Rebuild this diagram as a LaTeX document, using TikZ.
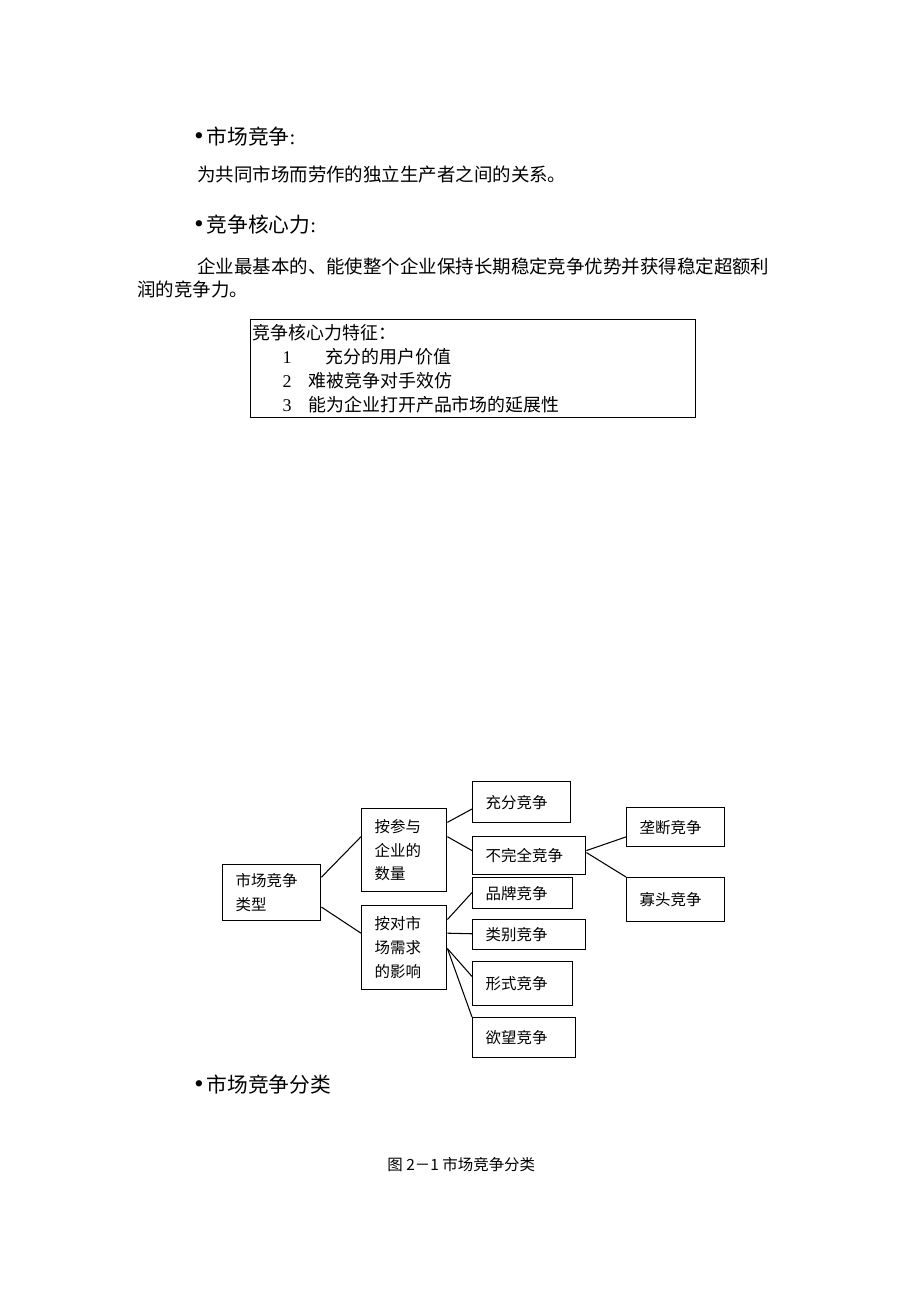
\documentclass[tikz,border=0pt]{standalone}
\usepackage{fontspec}
\setmainfont{Noto Sans CJK SC}
\newfontfamily\lat{Liberation Serif}
\usepackage{tikz}
\usetikzlibrary{calc}

\newcommand{\blt}{{\lat\fontsize{15}{15}\selectfont \char"2022}\hspace{0.6mm}}

\tikzstyle{box}=[draw,line width=0.8pt,anchor=north west,inner sep=0pt,
                inner xsep=2.6mm,align=left,font=\fontsize{8.8}{13.5}\selectfont]
\tikzstyle{link}=[line width=0.6pt]
\tikzstyle{head}=[anchor=west,inner sep=0pt,font=\fontsize{11.8}{14}\selectfont]
\tikzstyle{body}=[anchor=west,inner sep=0pt,font=\fontsize{10.5}{13}\selectfont]

\begin{document}
\begin{tikzpicture}[x=0.2mm,y=-0.2mm]

\useasboundingbox (0,0) rectangle (920,1302);

% % % % % % % % % % % % % % %

\node[head] (h1) at (194,137) {\blt 市场竞争{\lat :}};
\node[body] (t1) at (197,174) {为共同市场而劳作的独立生产者之间的关系。};
\node[head] (h2) at (194,225) {\blt 竞争核心力{\lat :}};
\node[body] (t2) at (197,266) {企业最基本的、能使整个企业保持长期稳定竞争优势并获得稳定超额利};
\node[body] (t3) at (137,289) {润的竞争力。};

\node[draw,line width=0.6pt,anchor=north west,inner sep=0pt,inner xsep=0.4mm,
      minimum width=89mm,minimum height=19.6mm,text width=88.2mm,align=left,
      font=\fontsize{10.2}{13.6}\selectfont] (feat) at (250,319)
  {竞争核心力特征：\\
   \hspace*{6mm}\makebox[5.2mm][l]{\lat 1}\hspace*{3.4mm}充分的用户价值\\
   \hspace*{6mm}\makebox[5.2mm][l]{\lat 2}难被竞争对手效仿\\
   \hspace*{6mm}\makebox[5.2mm][l]{\lat 3}能为企业打开产品市场的延展性};

% % % % % % % % % % % % % % %

\node[box,minimum width=19.6mm,minimum height=11.2mm,text width=14.4mm] (root) at (222,864) {市场竞争\\类型};
\node[box,minimum width=17mm,minimum height=16.6mm,text width=11.8mm] (qty) at (361,808) {按参与\\企业的\\数量};
\node[box,minimum width=17mm,minimum height=16.8mm,text width=11.8mm] (demand) at (361,905) {按对市\\场需求\\的影响};

\node[box,minimum width=19.6mm,minimum height=8.2mm,text width=14.4mm] (full) at (472,781) {充分竞争};
\node[box,minimum width=22.6mm,minimum height=7.6mm,text width=17.4mm] (imperf) at (472,836) {不完全竞争};
\node[box,minimum width=20mm,minimum height=6.2mm,text width=14.8mm] (brand) at (472,877) {品牌竞争};
\node[box,minimum width=22.6mm,minimum height=6mm,text width=17.4mm] (generic) at (472,919) {类别竞争};
\node[box,minimum width=20mm,minimum height=8.8mm,text width=14.8mm] (form) at (472,961) {形式竞争};
\node[box,minimum width=20.6mm,minimum height=8mm,text width=15.4mm] (desire) at (472,1017) {欲望竞争};

\node[box,minimum width=19.6mm,minimum height=7.8mm,text width=14.4mm] (mono) at (626,807) {垄断竞争};
\node[box,minimum width=19.6mm,minimum height=8.8mm,text width=14.4mm] (oligo) at (626,877) {寡头竞争};

\foreach \s/\t/\n in {.23/.34/qty,.75/.33/demand} {
\draw[link] ($(root.north east)!\s!(root.south east)$) -- ($(\n.north west)!\t!(\n.south west)$);
}
\foreach \s/\t/\n in {.17/.66/full,.34/.37/imperf} {
\draw[link] ($(qty.north east)!\s!(qty.south east)$) -- ($(\n.north west)!\t!(\n.south west)$);
}
\foreach \s/\t/\n in {.37/.74/mono,.42/0/oligo} {
\draw[link] ($(imperf.north east)!\s!(imperf.south east)$) -- ($(\n.north west)!\t!(\n.south west)$);
}
\foreach \s/\t/\n in {.17/.48/brand,.33/.47/generic,.51/.34/form,.51/0/desire} {
\draw[link] ($(demand.north east)!\s!(demand.south east)$) -- ($(\n.north west)!\t!(\n.south west)$);
}

\node[head] (h3) at (194,1085) {\blt 市场竞争分类};
\node[anchor=west,inner sep=0pt,font=\fontsize{8.8}{10}\selectfont] (cap) at (387,1165) {图 2－1 市场竞争分类};

\end{tikzpicture}
\end{document}
